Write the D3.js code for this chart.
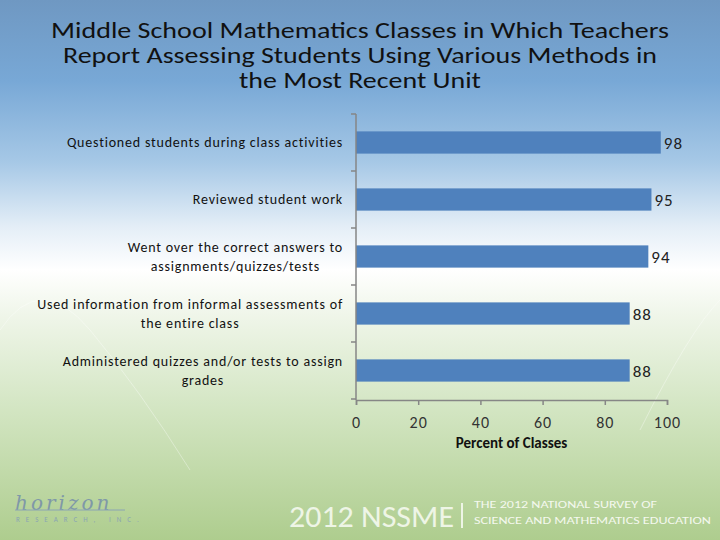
<!DOCTYPE html>
<html><head><meta charset="utf-8">
<script src="https://cdn.jsdelivr.net/npm/d3@7"></script>
<style>body{margin:0;padding:0;overflow:hidden}svg{display:block}</style>
</head><body>
<script>
const categories = [
  ["Questioned students during class activities"],
  ["Reviewed student work"],
  ["Went over the correct answers to", "assignments/quizzes/tests"],
  ["Used information from informal assessments of", "the entire class"],
  ["Administered quizzes and/or tests to assign", "grades"]
];
const values = [98, 95, 94, 88, 88];
const xTicks = [0, 20, 40, 60, 80, 100];
const titleLines = [
  "Middle School Mathematics Classes in Which Teachers",
  "Report Assessing Students Using Various Methods in",
  "the Most Recent Unit"
];
const xAxisTitle = "Percent of Classes";

const W = 720, H = 540;
const svg = d3.select("body").append("svg").attr("width", W).attr("height", H);
const defs = svg.append("defs");
const g1 = defs.append("linearGradient").attr("id","bg").attr("x1",0).attr("y1",0).attr("x2",0).attr("y2",1);
[[0,"#6f98c2"],[0.15,"#78a8d6"],[0.3,"#a6c8e6"],[0.42,"#e4eef7"],[0.5,"#ffffff"],[0.58,"#f0f6ea"],[0.75,"#d4e6c4"],[1,"#aecd8e"]]
  .forEach(([o,c]) => g1.append("stop").attr("offset",o).attr("stop-color",c));
svg.append("rect").attr("width",W).attr("height",H).attr("fill","url(#bg)");

// faint decorative curves
svg.append("path").attr("d","M0,330 Q40,270 90,330 T190,470").attr("fill","none").attr("stroke","#ffffff").attr("stroke-opacity",0.35);
svg.append("path").attr("d","M640,430 Q690,330 720,300").attr("fill","none").attr("stroke","#ffffff").attr("stroke-opacity",0.35);

const font = "Carlito, Calibri, 'Open Sans', 'Liberation Sans', sans-serif";

// title
const title = svg.append("g");
const tw = [618, 594, 242];
titleLines.forEach((t,i) => {
  title.append("text").attr("x",360).attr("y",38 + i*25).attr("text-anchor","middle")
    .attr("font-family",font).attr("font-size",22).attr("fill","#111")
    .attr("textLength", tw[i]).attr("lengthAdjust","spacingAndGlyphs").text(t);
});

const x = d3.scaleLinear().domain([0,100]).range([356,667]);
const y = d3.scaleBand().domain(d3.range(categories.length)).range([114,399]).paddingInner(0.61).paddingOuter(0.305);

// bars
svg.append("g").selectAll("rect").data(values).join("rect")
  .attr("x", x(0)).attr("y",(d,i)=>y(i)).attr("width",d=>x(d)-x(0)).attr("height",y.bandwidth())
  .attr("fill","#4f81bd");

// value labels
svg.append("g").selectAll("text").data(values).join("text")
  .attr("x",d=>x(d)+3).attr("y",(d,i)=>y(i)+y.bandwidth()/2+1).attr("dy","0.35em")
  .attr("font-family",font).attr("font-size",17).attr("letter-spacing",1).attr("fill","#222").text(d=>d);

// y axis
const step = y.step();
const yAx = svg.append("g");
yAx.append("line").attr("x1",356).attr("x2",356).attr("y1",114).attr("y2",400).attr("stroke","#868686").attr("stroke-width",1.5);
d3.range(categories.length+1).forEach(i=>{
  yAx.append("line").attr("x1",351).attr("x2",356).attr("y1",114+i*step).attr("y2",114+i*step).attr("stroke","#868686").attr("stroke-width",1.5);
});
// category labels
categories.forEach((lines,i)=>{
  const cy = y(i)+y.bandwidth()/2;
  const lh = 19;
  const t = svg.append("text").attr("text-anchor","middle").attr("font-family",font).attr("font-size",14)
    .attr("letter-spacing",0.8).attr("fill","#111");
  lines.forEach((ln,j)=>{
    const yy = cy + (j - (lines.length-1)/2)*lh;
    t.append("tspan").attr("x",0).attr("y",yy).attr("dy","0.35em").text(ln);
  });
  const maxW = d3.max(t.selectAll("tspan").nodes(), n=>n.getComputedTextLength());
  t.selectAll("tspan").attr("x", 343 - maxW/2);
});

// x axis
const xAxis = d3.axisBottom(x).tickValues(xTicks).tickSize(5).tickPadding(12);
const xg = svg.append("g").attr("transform","translate(0,400)").call(xAxis);
xg.select(".domain").attr("stroke","#868686").attr("stroke-width",1.5);
xg.selectAll(".tick line").attr("stroke","#868686").attr("stroke-width",1.5);
xg.selectAll(".tick text").attr("font-family",font).attr("font-size",16).attr("letter-spacing",1).attr("fill","#333");

svg.append("text").attr("x",511.5).attr("y",448).attr("text-anchor","middle")
  .attr("font-family",font).attr("font-size",15).attr("font-weight","bold").attr("fill","#111").text(xAxisTitle);

// footer
svg.append("text").attr("x",15).attr("y",510).attr("font-family","'DejaVu Serif', serif").attr("font-style","italic")
  .attr("font-size",20).attr("fill","#7f98a8").attr("letter-spacing",3).text("horizon");
svg.append("line").attr("x1",15).attr("x2",125).attr("y1",510).attr("y2",510).attr("stroke","#8aa4b4");
svg.append("text").attr("x",16).attr("y",522).attr("font-family",font).attr("font-size",7).attr("fill","#8aa4b4")
  .attr("letter-spacing",6).text("RESEARCH, INC.");

svg.append("text").attr("x",289).attr("y",527).attr("font-family",font).attr("font-size",30)
  .attr("fill","#eef5e6").attr("textLength",165).attr("lengthAdjust","spacingAndGlyphs").text("2012 NSSME");
svg.append("line").attr("x1",462).attr("x2",462).attr("y1",503).attr("y2",528).attr("stroke","#eef5e6").attr("stroke-width",2);
svg.append("text").attr("x",474).attr("y",508).attr("font-family",font).attr("font-size",11)
  .attr("fill","#f4f8ee").attr("textLength",183).attr("lengthAdjust","spacingAndGlyphs").text("THE 2012 NATIONAL SURVEY OF");
svg.append("text").attr("x",474).attr("y",524).attr("font-family",font).attr("font-size",11)
  .attr("fill","#f4f8ee").attr("textLength",237).attr("lengthAdjust","spacingAndGlyphs").text("SCIENCE AND MATHEMATICS EDUCATION");
</script>
</body></html>
